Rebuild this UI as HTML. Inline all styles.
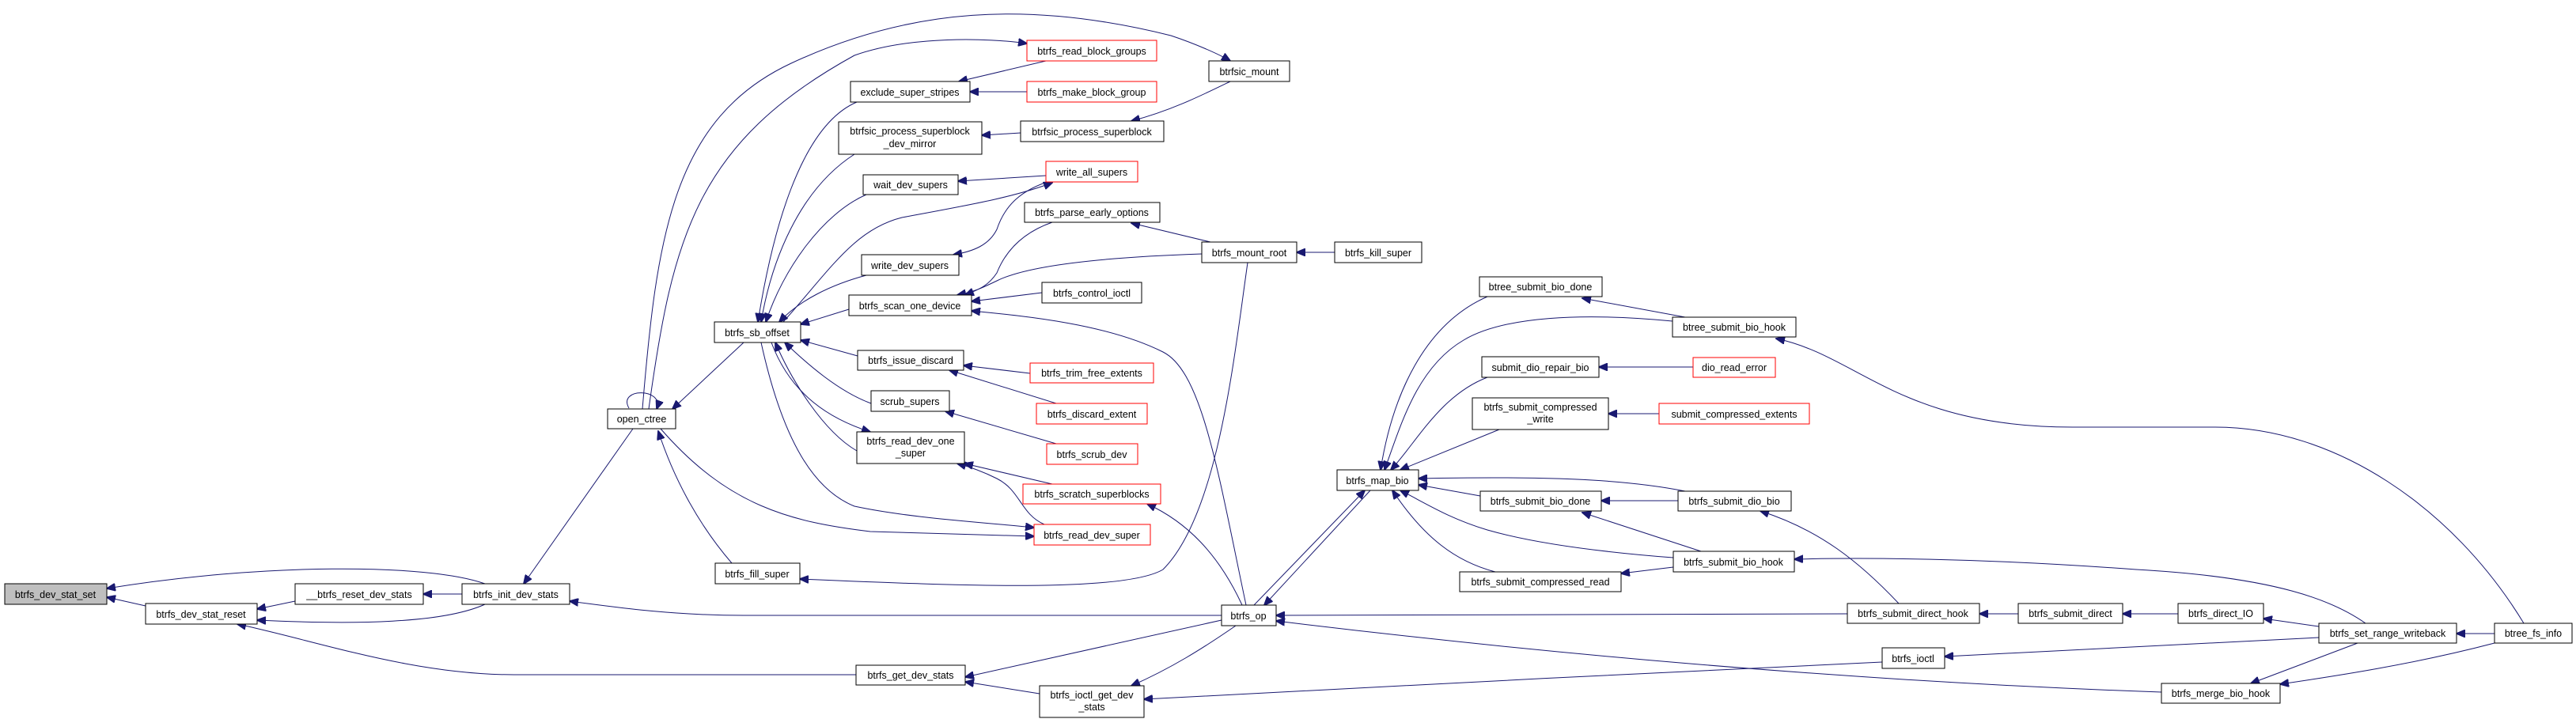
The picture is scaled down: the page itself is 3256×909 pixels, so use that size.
<!DOCTYPE html>
<html><head><meta charset="utf-8"><style>
html,body{margin:0;padding:0;background:#fff;}
svg{display:block;}
text{font-family:"Liberation Sans",sans-serif;font-size:12.5px;fill:#000;text-anchor:middle;}
.n{fill:#fff;stroke:#000;stroke-width:1;}
.r{fill:#fff;stroke:#ff0000;stroke-width:1;}
.g{fill:#bfbfbf;stroke:#000;stroke-width:1;}
path{fill:none;stroke:#191970;stroke-width:1;marker-end:url(#a);}
</style></head><body>
<svg width="3256" height="909" viewBox="0 0 3256 909" xmlns="http://www.w3.org/2000/svg">
<defs><marker id="a" markerWidth="12" markerHeight="10" refX="11" refY="5" orient="auto" markerUnits="userSpaceOnUse"><path d="M0,0 L12,5 L0,10 Z" style="fill:#191970;stroke:#191970;marker-end:none"/></marker></defs>
<!-- edges -->
<path d="M613,738 C540,712 330,712 135,744"/>
<path d="M184,766 L135,755"/>
<path d="M373,760 L325,770"/>
<path d="M613,764 C560,788 450,790 325,784"/>
<path d="M1082,853 L650,853 C520,853 400,810 300,789"/>
<path d="M584,751 L535,751"/>
<path d="M800,542 L662,738"/>
<path d="M1544,778 L940,778 C850,778 780,768 720,760"/>
<path d="M795,516 C780,490 840,490 830,517"/>
<path d="M812,517 C830,300 850,150 1000,80 C1150,10 1300,0 1480,45 C1510,55 1540,68 1555,77"/>
<path d="M820,517 C850,300 880,180 1080,70 C1150,45 1250,48 1298,55"/>
<path d="M940,433 L850,517"/>
<path d="M835,542 C920,640 1000,660 1100,672 L1307,678"/>
<path d="M962,433 C990,560 1030,620 1080,640 C1150,655 1240,660 1307,667"/>
<path d="M925,712 C880,660 850,600 832,545"/>
<path d="M1083,129 C1010,160 975,300 958,407"/>
<path d="M1080,195 C1010,240 975,330 962,407"/>
<path d="M1095,246 C1040,270 990,340 968,407"/>
<path d="M1095,348 C1050,360 1010,380 985,407"/>
<path d="M1073,391 L1012,410"/>
<path d="M1084,450 L1012,430"/>
<path d="M1101,510 C1060,495 1020,460 992,433"/>
<path d="M1083,570 C1040,545 1000,480 980,433"/>
<path d="M975,433 C1000,500 1050,530 1100,546"/>
<path d="M1322,77 L1212,103"/>
<path d="M1298,116 L1226,116"/>
<path d="M1290,168 L1241,171"/>
<path d="M1555,103 C1520,120 1480,140 1430,153"/>
<path d="M1322,222 L1211,229"/>
<path d="M1330,228 C1290,240 1270,260 1260,290 C1250,310 1230,318 1205,322"/>
<path d="M990,407 C1050,340 1080,290 1140,275 C1220,260 1280,250 1330,231"/>
<path d="M1330,281 C1290,295 1270,320 1260,345 C1250,360 1240,365 1220,373"/>
<path d="M1519,321 C1400,325 1300,335 1260,355 C1245,362 1235,368 1210,373"/>
<path d="M1530,306 L1430,282"/>
<path d="M1687,319 L1639,319"/>
<path d="M1317,370 L1228,381"/>
<path d="M1575,765 C1540,600 1520,470 1470,445 C1400,410 1300,400 1228,393"/>
<path d="M1577,332 C1560,450 1540,650 1470,720 C1420,750 1200,740 1011,732"/>
<path d="M1302,472 L1218,462"/>
<path d="M1335,510 L1200,468"/>
<path d="M1335,561 L1195,520"/>
<path d="M1330,612 L1219,586"/>
<path d="M1320,663 C1290,650 1290,620 1260,605 C1240,595 1225,590 1210,586"/>
<path d="M1570,765 C1540,700 1500,660 1450,637"/>
<path d="M1585,765 L1725,620"/>
<path d="M1732,620 L1598,765"/>
<path d="M1544,784 L1220,856"/>
<path d="M1314,877 L1220,862"/>
<path d="M1562,791 C1520,820 1480,845 1430,867"/>
<path d="M2379,837 C2100,850 1700,870 1446,884"/>
<path d="M2335,776 L1613,778"/>
<path d="M2732,875 C2300,860 1900,820 1613,785"/>
<path d="M1880,375 C1800,410 1760,500 1745,594"/>
<path d="M2114,406 C2000,395 1900,400 1850,430 C1790,465 1770,540 1750,594"/>
<path d="M1880,477 C1820,500 1790,560 1758,594"/>
<path d="M1895,543 L1770,594"/>
<path d="M2130,621 C2050,605 1950,602 1793,605"/>
<path d="M1871,627 L1793,613"/>
<path d="M2115,705 C2050,700 1950,690 1880,670 C1830,655 1800,635 1770,620"/>
<path d="M1890,723 C1840,710 1800,680 1760,620"/>
<path d="M2130,401 L2000,377"/>
<path d="M3190,788 C3100,640 2950,540 2800,540 L2620,540 C2400,540 2350,450 2245,428"/>
<path d="M2140,464 L2021,464"/>
<path d="M2097,523 L2033,523"/>
<path d="M2121,633 L2024,633"/>
<path d="M2150,697 L2000,648"/>
<path d="M2115,717 L2049,725"/>
<path d="M2400,763 C2350,710 2300,670 2225,646"/>
<path d="M2990,788 C2950,760 2880,730 2700,720 C2500,705 2350,705 2268,707"/>
<path d="M2551,776 L2502,776"/>
<path d="M2753,776 L2683,776"/>
<path d="M2931,792 L2861,782"/>
<path d="M3153,801 L3105,801"/>
<path d="M2931,806 L2458,830"/>
<path d="M2980,813 L2845,864"/>
<path d="M3153,813 C3050,840 2950,855 2882,865"/>
<!-- nodes -->
<rect class="g" x="6" y="738" width="129" height="26"/><text x="70" y="756">btrfs_dev_stat_set</text>
<rect class="n" x="184" y="763" width="141" height="26"/><text x="254" y="781">btrfs_dev_stat_reset</text>
<rect class="n" x="373" y="738" width="162" height="26"/><text x="454" y="756">__btrfs_reset_dev_stats</text>
<rect class="n" x="584" y="738" width="136" height="26"/><text x="652" y="756">btrfs_init_dev_stats</text>
<rect class="n" x="768" y="517" width="86" height="25"/><text x="811" y="534">open_ctree</text>
<rect class="n" x="903" y="407" width="109" height="26"/><text x="957" y="425">btrfs_sb_offset</text>
<rect class="n" x="904" y="712" width="107" height="26"/><text x="957" y="730">btrfs_fill_super</text>
<rect class="r" x="1298" y="51" width="164" height="26"/><text x="1380" y="69">btrfs_read_block_groups</text>
<rect class="n" x="1528" y="77" width="102" height="26"/><text x="1579" y="95">btrfsic_mount</text>
<rect class="n" x="1075" y="103" width="151" height="26"/><text x="1150" y="121">exclude_super_stripes</text>
<rect class="r" x="1298" y="103" width="164" height="26"/><text x="1380" y="121">btrfs_make_block_group</text>
<rect class="n" x="1060" y="154" width="181" height="41"/><text x="1150" y="170">btrfsic_process_superblock</text><text x="1150" y="186">_dev_mirror</text>
<rect class="n" x="1290" y="153" width="181" height="26"/><text x="1380" y="171">btrfsic_process_superblock</text>
<rect class="r" x="1322" y="204" width="116" height="26"/><text x="1380" y="222">write_all_supers</text>
<rect class="n" x="1091" y="221" width="120" height="25"/><text x="1151" y="238">wait_dev_supers</text>
<rect class="n" x="1295" y="256" width="171" height="25"/><text x="1380" y="273">btrfs_parse_early_options</text>
<rect class="n" x="1519" y="306" width="120" height="26"/><text x="1579" y="324">btrfs_mount_root</text>
<rect class="n" x="1687" y="306" width="110" height="26"/><text x="1742" y="324">btrfs_kill_super</text>
<rect class="n" x="1089" y="322" width="123" height="26"/><text x="1150" y="340">write_dev_supers</text>
<rect class="n" x="1073" y="373" width="155" height="26"/><text x="1150" y="391">btrfs_scan_one_device</text>
<rect class="n" x="1317" y="357" width="126" height="26"/><text x="1380" y="375">btrfs_control_ioctl</text>
<rect class="n" x="1084" y="443" width="134" height="25"/><text x="1151" y="460">btrfs_issue_discard</text>
<rect class="r" x="1302" y="459" width="156" height="25"/><text x="1380" y="476">btrfs_trim_free_extents</text>
<rect class="n" x="1101" y="494" width="99" height="26"/><text x="1150" y="512">scrub_supers</text>
<rect class="r" x="1310" y="510" width="140" height="26"/><text x="1380" y="528">btrfs_discard_extent</text>
<rect class="n" x="1083" y="546" width="136" height="40"/><text x="1151" y="562">btrfs_read_dev_one</text><text x="1151" y="577">_super</text>
<rect class="r" x="1323" y="561" width="115" height="26"/><text x="1380" y="579">btrfs_scrub_dev</text>
<rect class="r" x="1293" y="612" width="174" height="25"/><text x="1380" y="629">btrfs_scratch_superblocks</text>
<rect class="r" x="1307" y="663" width="147" height="26"/><text x="1380" y="681">btrfs_read_dev_super</text>
<rect class="n" x="1544" y="765" width="69" height="26"/><text x="1578" y="783">btrfs_op</text>
<rect class="n" x="1082" y="841" width="138" height="25"/><text x="1151" y="858">btrfs_get_dev_stats</text>
<rect class="n" x="1314" y="867" width="132" height="40"/><text x="1380" y="883">btrfs_ioctl_get_dev</text><text x="1380" y="898">_stats</text>
<rect class="n" x="1690" y="594" width="103" height="26"/><text x="1741" y="612">btrfs_map_bio</text>
<rect class="n" x="1870" y="350" width="155" height="25"/><text x="1947" y="367">btree_submit_bio_done</text>
<rect class="n" x="1873" y="451" width="148" height="26"/><text x="1947" y="469">submit_dio_repair_bio</text>
<rect class="n" x="1861" y="503" width="172" height="40"/><text x="1947" y="519">btrfs_submit_compressed</text><text x="1947" y="534">_write</text>
<rect class="n" x="1871" y="621" width="153" height="25"/><text x="1947" y="638">btrfs_submit_bio_done</text>
<rect class="n" x="1845" y="723" width="204" height="25"/><text x="1947" y="740">btrfs_submit_compressed_read</text>
<rect class="n" x="2114" y="401" width="156" height="25"/><text x="2192" y="418">btree_submit_bio_hook</text>
<rect class="r" x="2140" y="452" width="104" height="25"/><text x="2192" y="469">dio_read_error</text>
<rect class="r" x="2097" y="510" width="190" height="26"/><text x="2192" y="528">submit_compressed_extents</text>
<rect class="n" x="2121" y="621" width="143" height="25"/><text x="2192" y="638">btrfs_submit_dio_bio</text>
<rect class="n" x="2115" y="697" width="153" height="26"/><text x="2191" y="715">btrfs_submit_bio_hook</text>
<rect class="n" x="2335" y="763" width="167" height="25"/><text x="2418" y="780">btrfs_submit_direct_hook</text>
<rect class="n" x="2551" y="763" width="132" height="25"/><text x="2617" y="780">btrfs_submit_direct</text>
<rect class="n" x="2753" y="763" width="108" height="25"/><text x="2807" y="780">btrfs_direct_IO</text>
<rect class="n" x="2931" y="788" width="174" height="25"/><text x="3018" y="805">btrfs_set_range_writeback</text>
<rect class="n" x="3153" y="788" width="98" height="25"/><text x="3202" y="805">btree_fs_info</text>
<rect class="n" x="2379" y="819" width="79" height="26"/><text x="2418" y="837">btrfs_ioctl</text>
<rect class="n" x="2732" y="864" width="150" height="25"/><text x="2807" y="881">btrfs_merge_bio_hook</text>
</svg>
</body></html>
